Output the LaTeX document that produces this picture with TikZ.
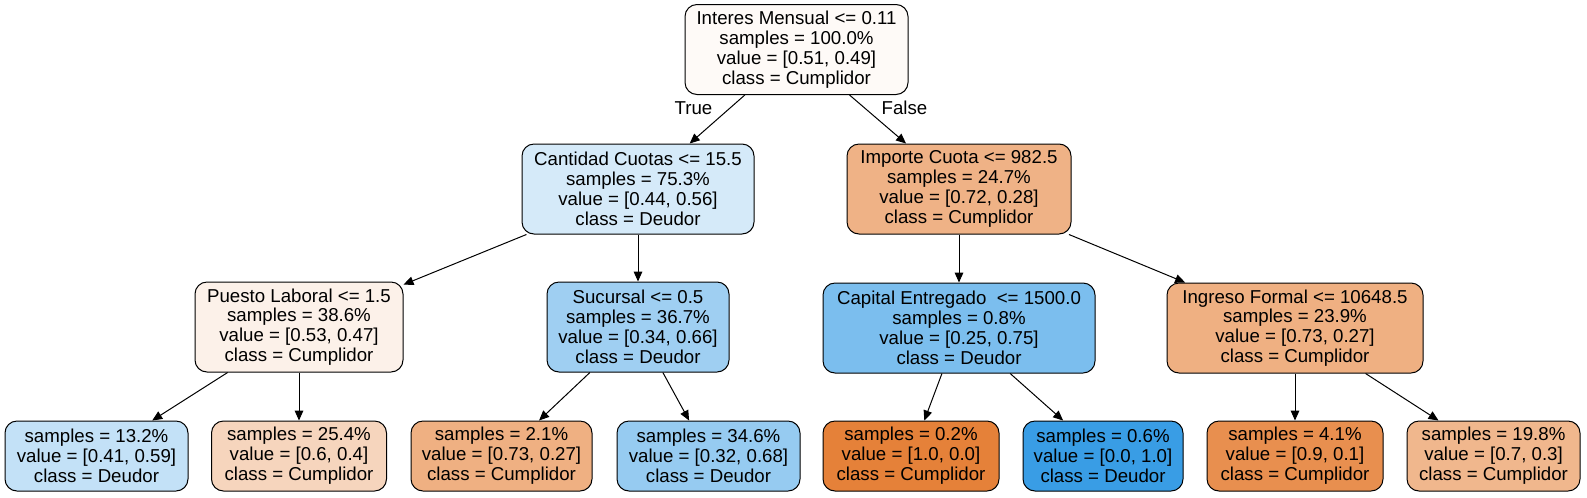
\documentclass[tikz,border=0pt]{standalone}
\usepackage{fontspec}
\setmainfont{Liberation Sans}
\usetikzlibrary{arrows.meta}
\definecolor{c0}{RGB}{254,250,247}
\definecolor{c1}{RGB}{213,234,249}
\definecolor{c2}{RGB}{239,178,134}
\definecolor{c3}{RGB}{252,241,233}
\definecolor{c4}{RGB}{159,207,242}
\definecolor{c5}{RGB}{123,190,238}
\definecolor{c6}{RGB}{239,176,130}
\definecolor{l1}{RGB}{195,225,247}
\definecolor{l2}{RGB}{246,213,189}
\definecolor{l3}{RGB}{239,176,130}
\definecolor{l4}{RGB}{150,203,241}
\definecolor{l5}{RGB}{229,129,57}
\definecolor{l6}{RGB}{57,157,229}
\definecolor{l7}{RGB}{232,143,79}
\definecolor{l8}{RGB}{240,183,141}
\begin{document}
\begin{tikzpicture}[x=0.75pt,y=-0.75pt,
  tn/.style={draw=black, line width=0.75pt, rounded corners=9pt, align=center,
    font=\fontsize{14}{14.9}\selectfont, inner sep=0pt, minimum height=67.5pt},
  leaf/.style={tn, minimum height=52.5pt},
  edge/.style={line width=0.75pt, -{Triangle[length=7.5pt,width=6.5pt]}},
  elab/.style={font=\fontsize{14}{14.9}\selectfont, inner sep=0pt}]
\useasboundingbox (0,0) rectangle (1587,497);
\node[tn, fill=c0, minimum width=167.25pt] (root) at (796.5,49.5) {Interes Mensual <= 0.11\\samples = 100.0\%\\value = [0.51, 0.49]\\class = Cumplidor};
\node[tn, fill=c1, minimum width=174pt] (cc) at (638,189) {Cantidad Cuotas <= 15.5\\samples = 75.3\%\\value = [0.44, 0.56]\\class = Deudor};
\node[tn, fill=c2, minimum width=168pt] (ic) at (959,189) {Importe Cuota <= 982.5\\samples = 24.7\%\\value = [0.72, 0.28]\\class = Cumplidor};
\node[tn, fill=c3, minimum width=156pt] (pl) at (299,327) {Puesto Laboral <= 1.5\\samples = 38.6\%\\value = [0.53, 0.47]\\class = Cumplidor};
\node[tn, fill=c4, minimum width=136.5pt] (su) at (638,327) {Sucursal <= 0.5\\samples = 36.7\%\\value = [0.34, 0.66]\\class = Deudor};
\node[tn, fill=c5, minimum width=204pt] (ce) at (959,328) {Capital Entregado\ \ <= 1500.0\\samples = 0.8\%\\value = [0.25, 0.75]\\class = Deudor};
\node[tn, fill=c6, minimum width=192pt] (if) at (1295,328) {Ingreso Formal <= 10648.5\\samples = 23.9\%\\value = [0.73, 0.27]\\class = Cumplidor};
\node[leaf, fill=l1, minimum width=137.25pt] (a1) at (96.5,456) {samples = 13.2\%\\value = [0.41, 0.59]\\class = Deudor};
\node[leaf, fill=l2, minimum width=131.25pt] (a2) at (299,456) {samples = 25.4\%\\value = [0.6, 0.4]\\class = Cumplidor};
\node[leaf, fill=l3, minimum width=135.75pt] (a3) at (501.5,456) {samples = 2.1\%\\value = [0.73, 0.27]\\class = Cumplidor};
\node[leaf, fill=l4, minimum width=137.25pt] (a4) at (708.5,456) {samples = 34.6\%\\value = [0.32, 0.68]\\class = Deudor};
\node[leaf, fill=l5, minimum width=132pt] (a5) at (911,456) {samples = 0.2\%\\value = [1.0, 0.0]\\class = Cumplidor};
\node[leaf, fill=l6, minimum width=120pt] (a6) at (1103,456) {samples = 0.6\%\\value = [0.0, 1.0]\\class = Deudor};
\node[leaf, fill=l7, minimum width=132pt] (a7) at (1295,456) {samples = 4.1\%\\value = [0.9, 0.1]\\class = Cumplidor};
\node[leaf, fill=l8, minimum width=129.75pt] (a8) at (1493.5,456) {samples = 19.8\%\\value = [0.7, 0.3]\\class = Cumplidor};
\draw[edge] (root) -- (cc);
\draw[edge] (root) -- (ic);
\draw[edge] (cc) -- (pl);
\draw[edge] (cc) -- (su);
\draw[edge] (ic) -- (ce);
\draw[edge] (ic) -- (if);
\draw[edge] (pl) -- (a1);
\draw[edge] (pl) -- (a2);
\draw[edge] (su) -- (a3);
\draw[edge] (su) -- (a4);
\draw[edge] (ce) -- (a5);
\draw[edge] (ce) -- (a6);
\draw[edge] (if) -- (a7);
\draw[edge] (if) -- (a8);
\node[elab] (tl) at (693.5,108) {True};
\node[elab] (fl) at (904.5,108) {False};
\end{tikzpicture}
\end{document}
